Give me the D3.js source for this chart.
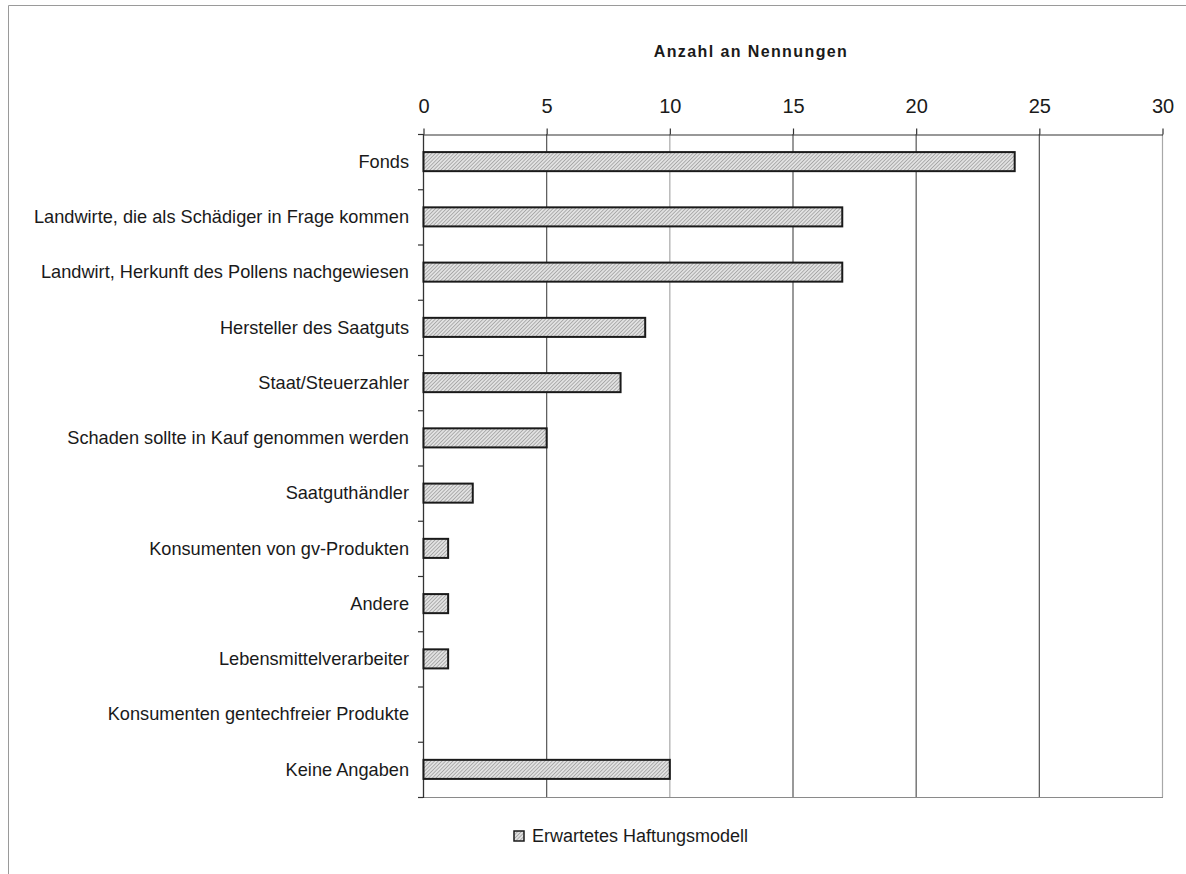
<!DOCTYPE html>
<html>
<head>
<meta charset="utf-8">
<script src="https://cdn.jsdelivr.net/npm/d3@7"></script>
<style>
  html, body { margin: 0; padding: 0; background: #fff; }
  svg { display: block; font-family: "Liberation Sans", Arial, sans-serif; }
</style>
</head>
<body>
<svg id="chart" width="1186" height="874"></svg>
<script>
// Answers: who should bear the liability (number of mentions)
const categories = [
  "Fonds",
  "Landwirte, die als Schädiger in Frage kommen",
  "Landwirt, Herkunft des Pollens nachgewiesen",
  "Hersteller des Saatguts",
  "Staat/Steuerzahler",
  "Schaden sollte in Kauf genommen werden",
  "Saatguthändler",
  "Konsumenten von gv-Produkten",
  "Andere",
  "Lebensmittelverarbeiter",
  "Konsumenten gentechfreier Produkte",
  "Keine Angaben"
];
const values = [24, 17, 17, 9, 8, 5, 2, 1, 1, 1, 0, 10];
const xTicks = [0, 5, 10, 15, 20, 25, 30];
const seriesName = "Erwartetes Haftungsmodell";
const axisTitle = "Anzahl an Nennungen";

const svg = d3.select("#chart");

// hatch fill for the bars
const defs = svg.append("defs");
const pat = defs.append("pattern")
  .attr("id", "hatch")
  .attr("patternUnits", "userSpaceOnUse")
  .attr("width", 2.6).attr("height", 2.6)
  .attr("patternTransform", "rotate(45)");
pat.append("rect").attr("width", 2.6).attr("height", 2.6).attr("fill", "#e2e2e2");
pat.append("line").attr("x1", 0).attr("y1", 0).attr("x2", 0).attr("y2", 2.6)
  .attr("stroke", "#7a7a7a").attr("stroke-width", 1);

// outer frame
svg.append("path")
  .attr("d", "M8.5,880 L8.5,5.5 L1190,5.5")
  .attr("fill", "none").attr("stroke", "#9a9a9a").attr("stroke-width", 1);

const plotLeft = 423, plotRight = 1162, plotTop = 134, plotBottom = 797;

const x = d3.scaleLinear().domain([0, 30]).range([plotLeft, plotRight]);
const y = d3.scaleBand().domain(categories).range([plotTop, plotBottom]).paddingInner(0.655).paddingOuter(0.3275);

// vertical gridlines
svg.append("g").selectAll("line")
  .data(xTicks.filter(d => d > 0))
  .join("line")
  .attr("x1", d => x(d) + 0.5).attr("x2", d => x(d) + 0.5)
  .attr("y1", plotTop).attr("y2", plotBottom)
  .attr("stroke", d => (d === 10 || d === 30) ? "#a8a8a8" : "#555")
  .attr("stroke-width", 1.2);

// bottom edge of plot area
svg.append("line")
  .attr("x1", plotLeft).attr("x2", plotRight + 1)
  .attr("y1", plotBottom + 0.5).attr("y2", plotBottom + 0.5)
  .attr("stroke", "#8a8a8a").attr("stroke-width", 1.2);

// top value axis
const xAxis = d3.axisTop(x).tickValues(xTicks).tickSize(6).tickPadding(16).tickSizeOuter(0);
const gx = svg.append("g").attr("transform", `translate(0.5,${plotTop + 0.5})`).call(xAxis);
gx.select(".domain").attr("stroke", "#333").attr("stroke-width", 1.2);
gx.selectAll(".tick line").attr("stroke", "#333").attr("stroke-width", 1.2);
gx.selectAll(".tick text").attr("font-size", 20).attr("fill", "#1a1a1a")
  .attr("font-family", "Liberation Sans, Arial, sans-serif");

// axis title
svg.append("text")
  .attr("x", 751).attr("y", 57)
  .attr("text-anchor", "middle")
  .attr("font-size", 16).attr("font-weight", "bold")
  .attr("letter-spacing", 1.4).attr("fill", "#1a1a1a")
  .text(axisTitle);

// category axis line and ticks at band boundaries
svg.append("line")
  .attr("x1", plotLeft + 0.5).attr("x2", plotLeft + 0.5)
  .attr("y1", plotTop).attr("y2", plotBottom + 1)
  .attr("stroke", "#333").attr("stroke-width", 1.3);
const step = y.step();
svg.append("g").selectAll("line")
  .data(d3.range(categories.length + 1))
  .join("line")
  .attr("x1", plotLeft - 5).attr("x2", plotLeft)
  .attr("y1", i => plotTop + i * step + 0.5).attr("y2", i => plotTop + i * step + 0.5)
  .attr("stroke", "#333").attr("stroke-width", 1.2);

// category labels
svg.append("g").selectAll("text")
  .data(categories)
  .join("text")
  .attr("x", 409)
  .attr("y", d => y(d) + y.bandwidth() / 2)
  .attr("dy", "0.35em")
  .attr("text-anchor", "end")
  .attr("font-size", 18.2).attr("fill", "#1a1a1a")
  .text(d => d);

// bars
svg.append("g").selectAll("rect")
  .data(categories.map((c, i) => ({ c, v: values[i] })).filter(d => d.v > 0))
  .join("rect")
  .attr("x", x(0) + 0.5)
  .attr("y", d => y(d.c))
  .attr("width", d => x(d.v) - x(0))
  .attr("height", y.bandwidth())
  .attr("fill", "url(#hatch)")
  .attr("stroke", "#1a1a1a").attr("stroke-width", 2);

// legend
const lg = svg.append("g").attr("transform", "translate(514,831)");
lg.append("rect").attr("width", 10).attr("height", 10)
  .attr("fill", "url(#hatch)").attr("stroke", "#1a1a1a").attr("stroke-width", 1.5);
lg.append("text").attr("x", 18).attr("y", 5).attr("dy", "0.35em")
  .attr("font-size", 18).attr("fill", "#1a1a1a").text(seriesName);
</script>
</body>
</html>
